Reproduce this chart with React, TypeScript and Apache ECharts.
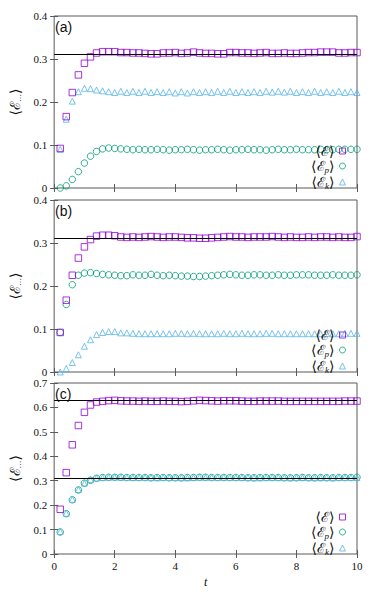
import React, { useEffect, useRef } from "react";
import * as echarts from "echarts";

// time grid
const T = [
  0.2, 0.4, 0.6, 0.8, 1.0, 1.2, 1.4, 1.6, 1.8, 2.0,
  2.2, 2.4, 2.6, 2.8, 3.0, 3.2, 3.4, 3.6, 3.8, 4.0,
  4.2, 4.4, 4.6, 4.8, 5.0, 5.2, 5.4, 5.6, 5.8, 6.0,
  6.2, 6.4, 6.6, 6.8, 7.0, 7.2, 7.4, 7.6, 7.8, 8.0,
  8.2, 8.4, 8.6, 8.8, 9.0, 9.2, 9.4, 9.6, 9.8, 10.0,
];

// panel (a)
const E_A = [
  0.092, 0.166, 0.222, 0.263, 0.290, 0.305, 0.314, 0.317, 0.317, 0.317,
  0.315, 0.315, 0.314, 0.314, 0.313, 0.312, 0.312, 0.314, 0.314, 0.315,
  0.313, 0.314, 0.316, 0.314, 0.313, 0.313, 0.312, 0.312, 0.315, 0.315,
  0.314, 0.314, 0.313, 0.314, 0.315, 0.313, 0.313, 0.314, 0.313, 0.313,
  0.314, 0.315, 0.315, 0.316, 0.316, 0.316, 0.314, 0.314, 0.315, 0.315,
];
const EP_A = [
  0.000, 0.005, 0.020, 0.038, 0.058, 0.074, 0.085, 0.091, 0.093, 0.092,
  0.091, 0.090, 0.089, 0.090, 0.089, 0.089, 0.090, 0.089, 0.088, 0.089,
  0.089, 0.090, 0.089, 0.088, 0.089, 0.089, 0.090, 0.089, 0.088, 0.089,
  0.089, 0.090, 0.089, 0.089, 0.088, 0.089, 0.090, 0.089, 0.089, 0.090,
  0.089, 0.089, 0.089, 0.090, 0.089, 0.089, 0.090, 0.090, 0.090, 0.090,
];
const EK_A = [
  0.090, 0.160, 0.202, 0.224, 0.232, 0.231, 0.228, 0.226, 0.224, 0.222,
  0.225, 0.222, 0.225, 0.222, 0.225, 0.222, 0.224, 0.222, 0.224, 0.221,
  0.224, 0.221, 0.224, 0.222, 0.224, 0.222, 0.225, 0.222, 0.225, 0.222,
  0.224, 0.222, 0.224, 0.222, 0.225, 0.223, 0.225, 0.223, 0.225, 0.222,
  0.224, 0.222, 0.225, 0.222, 0.224, 0.222, 0.225, 0.222, 0.224, 0.222,
];

// panel (b)
const E_B = [
  0.092, 0.167, 0.225, 0.265, 0.291, 0.308, 0.316, 0.318, 0.318, 0.317,
  0.314, 0.313, 0.314, 0.313, 0.314, 0.315, 0.314, 0.313, 0.314, 0.314,
  0.313, 0.312, 0.312, 0.311, 0.311, 0.312, 0.313, 0.314, 0.315, 0.314,
  0.314, 0.313, 0.314, 0.314, 0.314, 0.315, 0.314, 0.313, 0.314, 0.313,
  0.313, 0.314, 0.313, 0.314, 0.314, 0.313, 0.314, 0.313, 0.313, 0.315,
];
const EP_B = [
  0.092, 0.157, 0.203, 0.225, 0.230, 0.231, 0.229, 0.227, 0.226, 0.225,
  0.224, 0.224, 0.226, 0.225, 0.225, 0.227, 0.225, 0.224, 0.225, 0.224,
  0.223, 0.223, 0.222, 0.222, 0.223, 0.224, 0.225, 0.226, 0.227, 0.226,
  0.225, 0.225, 0.226, 0.226, 0.225, 0.225, 0.226, 0.225, 0.225, 0.226,
  0.226, 0.226, 0.225, 0.225, 0.225, 0.226, 0.225, 0.225, 0.225, 0.226,
];
const EK_B = [
  0.000, 0.008, 0.022, 0.040, 0.060, 0.075, 0.087, 0.092, 0.094, 0.094,
  0.091, 0.091, 0.090, 0.089, 0.089, 0.089, 0.089, 0.089, 0.089, 0.090,
  0.090, 0.089, 0.090, 0.089, 0.089, 0.089, 0.089, 0.090, 0.089, 0.089,
  0.090, 0.089, 0.089, 0.089, 0.090, 0.090, 0.089, 0.089, 0.089, 0.089,
  0.089, 0.089, 0.089, 0.089, 0.089, 0.089, 0.089, 0.090, 0.090, 0.090,
];

// panel (c)
const E_C = [
  0.183, 0.333, 0.447, 0.526, 0.580, 0.610, 0.622, 0.625, 0.628, 0.629,
  0.627, 0.626, 0.626, 0.625, 0.626, 0.625, 0.625, 0.626, 0.625, 0.625,
  0.624, 0.625, 0.627, 0.629, 0.628, 0.627, 0.626, 0.627, 0.627, 0.627,
  0.626, 0.625, 0.625, 0.626, 0.626, 0.626, 0.626, 0.625, 0.625, 0.625,
  0.625, 0.625, 0.625, 0.625, 0.625, 0.625, 0.625, 0.626, 0.626, 0.626,
];
const EP_C = [
  0.090, 0.165, 0.222, 0.262, 0.290, 0.302, 0.310, 0.313, 0.314, 0.314,
  0.314, 0.313, 0.313, 0.313, 0.313, 0.312, 0.313, 0.313, 0.312, 0.312,
  0.312, 0.313, 0.313, 0.314, 0.314, 0.313, 0.313, 0.313, 0.313, 0.313,
  0.313, 0.312, 0.312, 0.313, 0.313, 0.313, 0.313, 0.312, 0.312, 0.312,
  0.313, 0.312, 0.312, 0.313, 0.312, 0.312, 0.313, 0.313, 0.313, 0.314,
];
const EK_C = [
  0.092, 0.167, 0.224, 0.264, 0.290, 0.305, 0.311, 0.313, 0.314, 0.315,
  0.314, 0.314, 0.313, 0.313, 0.314, 0.313, 0.312, 0.313, 0.313, 0.313,
  0.312, 0.312, 0.313, 0.314, 0.314, 0.314, 0.313, 0.314, 0.313, 0.313,
  0.313, 0.313, 0.312, 0.312, 0.313, 0.313, 0.313, 0.313, 0.312, 0.313,
  0.313, 0.313, 0.312, 0.312, 0.313, 0.312, 0.313, 0.313, 0.313, 0.313,
];

const REF_A = [0.314];
const REF_B = [0.314];
const REF_C = [0.628, 0.314];

const PANEL_LABELS = ["(a)", "(b)", "(c)"];
const Y_MAX = [0.4, 0.4, 0.7];

const SERIF = "'Liberation Serif', 'DejaVu Serif', serif";
const SANS = "'Liberation Sans', Arial, sans-serif";
const FRAME = "#5a5a5a";
const C_E = "#9400d3";
const C_P = "#009e73";
const C_K = "#56b4e9";

const GRIDS = [
  { top: 16, height: 172 },
  { top: 200, height: 172 },
  { top: 383, height: 171 },
];
const LEGEND_TOP = [144, 328, 510];

const LEGEND_TEXT: Record<string, string> = {
  E: "{a|⟨ℰ⟩}",
  Ep: "{a|⟨ℰ}{s|p}{a|⟩}",
  Ek: "{a|⟨ℰ}{s|k}{a|⟩}",
};

export default function App() {
  const ref = useRef<HTMLDivElement>(null);
  useEffect(() => {
    const chart = echarts.init(ref.current!, null, { renderer: "svg" });
    const panels = [
      { e: E_A, p: EP_A, k: EK_A, refs: REF_A, tag: "a" },
      { e: E_B, p: EP_B, k: EK_B, refs: REF_B, tag: "b" },
      { e: E_C, p: EP_C, k: EK_C, refs: REF_C, tag: "c" },
    ];
    const tick = { inside: true, length: 4, lineStyle: { color: FRAME, width: 1 } };
    const xAxis: any[] = [];
    const yAxis: any[] = [];
    const series: any[] = [];
    const legend: any[] = [];
    const graphic: any[] = [];
    panels.forEach((pn, i) => {
      const last = i === 2;
      xAxis.push({
        type: "value", gridIndex: i, min: 0, max: 10, interval: 2, position: "bottom",
        axisLine: { show: false }, axisTick: tick, splitLine: { show: false },
        axisLabel: { show: last, fontFamily: SERIF, fontSize: 11, color: "#111", margin: 6 },
        name: last ? "t" : "", nameLocation: "middle", nameGap: 22,
        nameTextStyle: { fontFamily: SERIF, fontStyle: "italic", fontSize: 12, color: "#111" },
      });
      xAxis.push({
        type: "value", gridIndex: i, min: 0, max: 10, interval: 2, position: "top",
        axisLine: { show: false }, axisTick: tick, splitLine: { show: false },
        axisLabel: { show: false },
      });
      yAxis.push({
        type: "value", gridIndex: i, min: 0, max: Y_MAX[i], interval: 0.1, position: "left",
        axisLine: { show: false }, axisTick: tick, splitLine: { show: false },
        axisLabel: {
          fontFamily: SERIF, fontSize: 11, color: "#111", margin: 7,
          formatter: (v: number) => (v === 0 ? "0" : v.toFixed(1)),
        },
        name: "{a|⟨ℰ}{s|…}{a|⟩}", nameLocation: "middle", nameRotate: 90, nameGap: 29,
        nameTextStyle: {
          fontFamily: SERIF, fontSize: 13, color: "#111",
          rich: {
            a: { fontFamily: SERIF, fontSize: 14, color: "#111" },
            s: { fontFamily: SERIF, fontSize: 8, color: "#111", padding: [7, 0, 0, 0] },
          },
        },
      });
      yAxis.push({
        type: "value", gridIndex: i, min: 0, max: Y_MAX[i], interval: 0.1, position: "right",
        axisLine: { show: false }, axisTick: tick, splitLine: { show: false },
        axisLabel: { show: false },
      });
      const mk = (name: string, data: number[], symbol: string, color: string, size: number, extra: any = {}) => ({
        type: "scatter", name, xAxisIndex: 2 * i, yAxisIndex: 2 * i,
        data: T.map((t, j) => [t, data[j]]),
        symbol, symbolSize: size,
        itemStyle: { color: "transparent", borderColor: color, borderWidth: 1 },
        emphasis: { disabled: true },
        ...extra,
      });
      series.push(mk("Ep_" + pn.tag, pn.p, "circle", C_P, 6.5));
      series.push(mk("Ek_" + pn.tag, pn.k, "triangle", C_K, 6));
      series.push(
        mk("E_" + pn.tag, pn.e, "rect", C_E, 6.5, {
          markLine: {
            silent: true, symbol: "none", label: { show: false },
            lineStyle: { color: "#000", width: 1, type: "solid" },
            emphasis: { disabled: true },
            data: pn.refs.map((v) => ({ yAxis: v })),
          },
        })
      );
      legend.push({
        data: ["E_" + pn.tag, "Ep_" + pn.tag, "Ek_" + pn.tag],
        orient: "vertical", right: 27, top: LEGEND_TOP[i], align: "right",
        padding: 0, itemWidth: 6, itemHeight: 6, itemGap: 0, selectedMode: false,
        itemStyle: { borderWidth: 1, color: "transparent" },
        formatter: (n: string) => LEGEND_TEXT[n.split("_")[0]],
        textStyle: {
          fontFamily: SERIF, fontSize: 14, color: "#111", lineHeight: 13,
          rich: {
            a: { fontFamily: SERIF, fontSize: 14, color: "#111", lineHeight: 13 },
            s: { fontFamily: SERIF, fontSize: 9, fontStyle: "italic", color: "#111", lineHeight: 13, padding: [7, 0, 0, 0] },
          },
        },
      });
      graphic.push({
        type: "text", left: 55, top: GRIDS[i].top + 4,
        style: { text: PANEL_LABELS[i], font: "14px " + SANS, fill: "#111" },
      });
    });
    chart.setOption({
      animation: false,
      backgroundColor: "#fff",
      grid: GRIDS.map((g) => ({
        left: 52, right: 16, top: g.top, height: g.height,
        show: true, borderColor: FRAME, borderWidth: 1, backgroundColor: "transparent",
      })),
      xAxis, yAxis, series, legend, graphic,
    });
    return () => chart.dispose();
  }, []);
  return (
    <div
      ref={ref}
      style={{ position: "fixed", left: 0, top: 0, width: 373, height: 596, background: "#fff" }}
    />
  );
}
